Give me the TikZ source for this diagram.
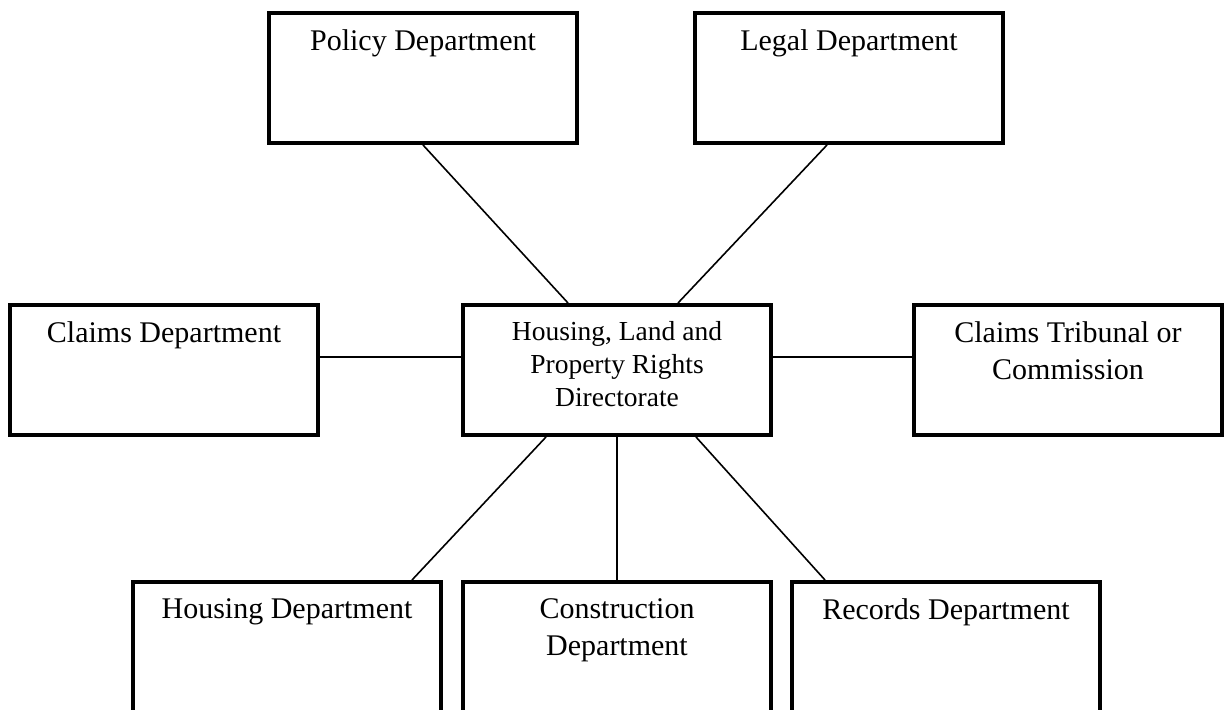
\documentclass[tikz,border=0pt]{standalone}
\usepackage{fontspec}
\setmainfont{Liberation Serif}
\usepackage{tikz}

\newcommand{\deptfont}{\fontsize{30}{37}\selectfont}
\newcommand{\hubfont}{\fontsize{27.5}{33}\selectfont}

\tikzset{
    dept/.style={draw, line width=4pt, minimum width=308pt, minimum height=130pt, inner sep=0pt},
    deptlabel/.style={anchor=north, yshift=-18.5pt, align=center, inner sep=0pt, font=\deptfont},
    hublabel/.style={anchor=north, yshift=-18.5pt, align=center, inner sep=0pt, font=\hubfont},
    link/.style={line width=1.6pt}
}

\begin{document}
\begin{tikzpicture}[x=1pt, y=1pt]
                    \useasboundingbox (0,0) rectangle (1225,709);
                    \clip (0,0) rectangle (1225,709);

                    % Directorate
                    \node[dept, label={[hublabel]north:Housing, Land and\\Property Rights\\Directorate}] (hlp) at (617,339) {};

                    % Top row
                    \node[dept, label={[deptlabel]north:Policy Department}] (policy) at (423,631) {};
                    \node[dept, label={[deptlabel]north:Legal Department}] (legal) at (849,631) {};

                    % Middle row
                    \node[dept, label={[deptlabel]north:Claims Department}] (claims) at (164,339) {};
                    \node[dept, label={[deptlabel]north:Claims Tribunal or\\Commission}] (tribunal) at (1068,339) {};

                    % Bottom row
                    \node[dept, label={[deptlabel]north:Housing Department}] (housing) at (287,62) {};
                    \node[dept, label={[deptlabel]north:Construction\\Department}] (construction) at (617,62) {};
                    \node[dept, label={[deptlabel]north:Records Department}] (records) at (946,62) {};

                    % Connections to the directorate
                    \draw[link] (policy.south) -- ([xshift=-49pt]hlp.north);
                    \draw[link] ([xshift=-22pt]legal.south) -- ([xshift=61pt]hlp.north);
                    \draw[link] ([yshift=13pt]claims.east) -- ([yshift=13pt]hlp.west);
                    \draw[link] ([yshift=13pt]hlp.east) -- ([yshift=13pt]tribunal.west);
                    \draw[link] ([xshift=-71pt]hlp.south) -- ([xshift=125pt]housing.north);
                    \draw[link] (hlp.south) -- (construction.north);
                    \draw[link] ([xshift=79pt]hlp.south) -- ([xshift=-121pt]records.north);
                \end{tikzpicture}
\end{document}
